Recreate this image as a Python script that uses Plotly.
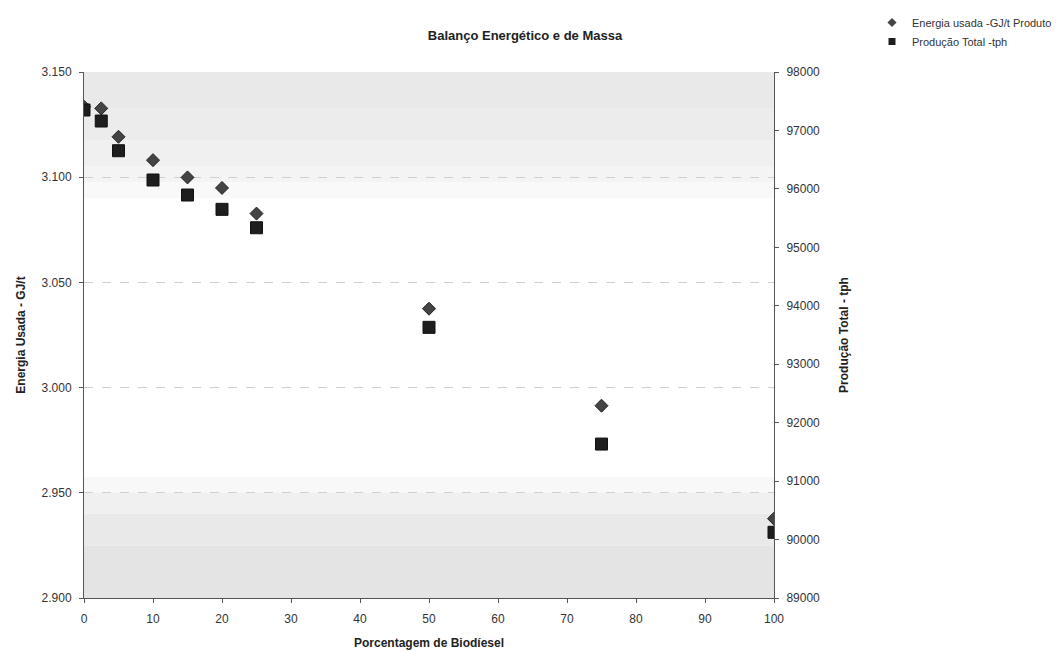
import plotly.graph_objects as go

# Data
biodiesel_pct = [0, 2.5, 5, 10, 15, 20, 25, 50, 75, 100]
energia_gj_t = [3.1335, 3.1327, 3.1192, 3.1081, 3.0999, 3.0949, 3.0827, 3.0375, 2.9914, 2.9377]
producao_tph = [97350, 97161, 96653, 96152, 95895, 95650, 95335, 93631, 91634, 90124]

x_ticks = [0, 10, 20, 30, 40, 50, 60, 70, 80, 90, 100]
y_left_ticks = [2.900, 2.950, 3.000, 3.050, 3.100, 3.150]
y_right_ticks = [89000, 90000, 91000, 92000, 93000, 94000, 95000, 96000, 97000, 98000]

name_energia = "Energia usada -GJ/t Produto"
name_producao = "Produção Total -tph"

FONT = "Liberation Sans, Arial, sans-serif"
W, H = 1055, 644  # page body has an 8px margin

fig = go.Figure()

fig.add_trace(go.Scatter(
    x=biodiesel_pct, y=energia_gj_t, mode="markers", showlegend=False,
    name=name_energia,
    marker=dict(symbol="diamond", size=10, color="#444444",
                line=dict(color="#222222", width=1)),
    yaxis="y"))

fig.add_trace(go.Scatter(
    x=biodiesel_pct, y=producao_tph, mode="markers", showlegend=False,
    name=name_producao,
    marker=dict(symbol="square", size=12, color="#1e1e1e",
                line=dict(color="#111111", width=1)),
    yaxis="y2"))

# legend-only entries with small markers, as in the reference
fig.add_trace(go.Scatter(x=[None], y=[None], mode="markers", name=name_energia,
                         marker=dict(symbol="diamond", size=7, color="#444444"),
                         yaxis="y"))
fig.add_trace(go.Scatter(x=[None], y=[None], mode="markers", name=name_producao,
                         marker=dict(symbol="square", size=7, color="#1e1e1e"),
                         yaxis="y"))

# Background bands (scan-like grey gradient top and bottom)
bands = [
    (0.93, 1.00, "#e9e9e9"), (0.87, 0.93, "#ececec"), (0.82, 0.87, "#f0f0f0"),
    (0.79, 0.82, "#f4f4f4"), (0.76, 0.79, "#f9f9f9"),
    (0.20, 0.23, "#f8f8f8"), (0.16, 0.20, "#f0f0f0"), (0.10, 0.16, "#e9e9e9"),
    (0.0, 0.10, "#e4e4e4"),
]
shapes = []
for y0, y1, c in bands:
    shapes.append(dict(type="rect", xref="x domain", yref="y domain",
                       x0=0, x1=1, y0=y0, y1=y1, fillcolor=c,
                       line=dict(width=0), layer="below"))

fig.update_layout(
    width=W, height=H,
    margin=dict(l=76, r=289, t=64, b=54, autoexpand=False),
    paper_bgcolor="white", plot_bgcolor="white",
    font=dict(family=FONT, size=12, color="#333333"),
    title=dict(text="<b>Balanço Energético e de Massa</b>", xref="container",
               x=517 / W, xanchor="center", yref="container",
               y=1 - 27 / H, yanchor="middle", automargin=False,
               font=dict(size=13, color="#222222")),
    shapes=shapes,
    showlegend=True,
    legend=dict(xref="container", yref="container", x=864 / W,
                y=1.0, xanchor="left", yanchor="top",
                bgcolor="rgba(0,0,0,0)", font=dict(size=11, color="#333333"),
                tracegroupgap=0, itemwidth=30),
    xaxis=dict(range=[0, 100], tickvals=x_ticks, showgrid=False,
               showline=True, linecolor="#555555", linewidth=1,
               ticks="outside", ticklen=4, tickcolor="#555555",
               ticklabelstandoff=6,
               zeroline=False, tickfont=dict(size=12), automargin=False,
               title=dict(text="<b>Porcentagem de Biodíesel</b>",
                          font=dict(size=12, color="#222222"), standoff=13)),
    yaxis=dict(range=[2.900, 3.150], tickvals=y_left_ticks, tickformat=".3f",
               showgrid=True, gridcolor="#cfcfcf", gridwidth=1, griddash="dash",
               showline=True, linecolor="#555555", linewidth=1,
               ticks="outside", ticklen=4, tickcolor="#555555",
               ticklabelstandoff=5,
               zeroline=False, tickfont=dict(size=12), automargin=False,
               title=dict(text="<b>Energia Usada - GJ/t</b>",
                          font=dict(size=12, color="#222222"), standoff=13)),
    yaxis2=dict(range=[89000, 98000], tickvals=y_right_ticks, tickformat="d",
                overlaying="y", side="right", showgrid=False,
                showline=True, linecolor="#555555", linewidth=1,
                ticks="outside", ticklen=4, tickcolor="#555555",
                ticklabelstandoff=5,
                zeroline=False, tickfont=dict(size=12), automargin=False,
                title=dict(text="<b>Produção Total - tph</b>",
                           font=dict(size=12, color="#222222"), standoff=20)),
)

fig.write_html("out.html")
